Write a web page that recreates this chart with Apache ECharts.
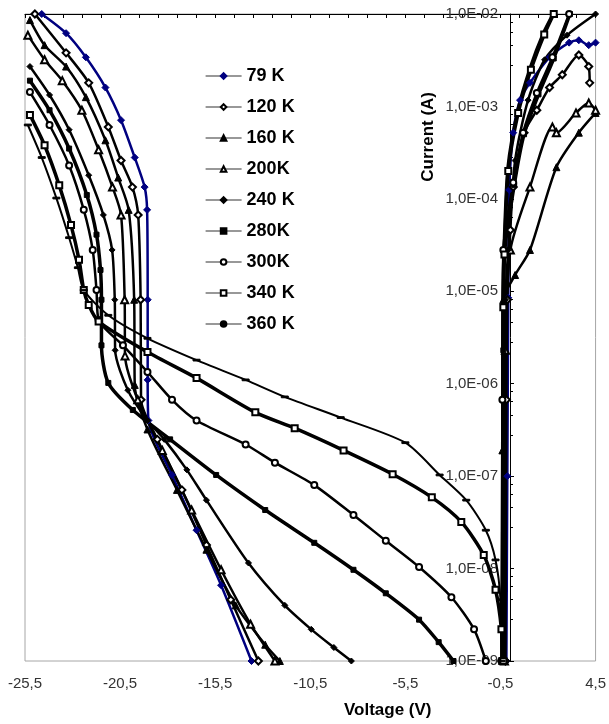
<!DOCTYPE html>
<html><head><meta charset="utf-8">
<script src="https://cdn.jsdelivr.net/npm/echarts@6/dist/echarts.min.js"></script>
<style>html,body{margin:0;padding:0;background:#fff}#c{width:609px;height:724px}</style>
</head><body><div id="c"></div>
<script>
// ---- data (Voltage V, Current A) ----
const xTickValues = [-25.5,-20.5,-15.5,-10.5,-5.5,-0.5,4.5];
const seriesNames = ['79 K','120 K','160 K','200K','240 K','280K','300K','340 K','360 K'];

const k79Rev = [[-24.62,1.0e-2],[-23.34,6.2e-3],[-22.30,3.4e-3],[-21.27,1.6e-3],[-20.45,7.1e-4],[-19.73,2.8e-4],[-19.21,1.34e-4],[-19.08,7.6e-5],[-19.05,8.1e-6],[-19.05,1.1e-6],[-19.01,4.0e-7],[-17.77,1.03e-7],[-16.48,2.6e-8],[-15.19,6.6e-9],[-13.59,1.0e-9]];
const k79Fwd = [[-0.19,1.0e-9],[-0.14,1.0e-7],[-0.09,8.5e-6],[-0.04,1.25e-4],[0.17,5.2e-4],[0.53,1.17e-3],[1.05,1.8e-3],[2.08,3.4e-3],[3.11,4.9e-3],[3.62,5.2e-3],[4.14,4.6e-3],[4.50,4.9e-3]];

const k120Rev = [[-24.98,1.0e-2],[-23.34,3.8e-3],[-22.15,1.8e-3],[-21.12,6.0e-4],[-20.45,2.6e-4],[-19.85,1.34e-4],[-19.55,6.7e-5],[-19.42,8.1e-6],[-19.40,6.7e-7],[-18.54,2.5e-7],[-17.25,7.1e-8],[-15.96,1.8e-8],[-14.68,4.6e-9],[-13.23,1.0e-9]];
const k120Fwd = [[-0.24,1.0e-9],[-0.19,6.7e-7],[-0.14,8.1e-6],[0.02,4.6e-5],[0.17,1.34e-4],[0.74,5.2e-4],[1.41,9.1e-4],[2.08,1.6e-3],[2.75,2.2e-3],[3.62,3.6e-3],[4.14,2.7e-3],[4.19,1.8e-3]];

const k160Rev = [[-25.24,8.6e-3],[-24.47,4.6e-3],[-23.34,2.7e-3],[-22.30,1.26e-3],[-21.27,4.3e-4],[-20.60,1.7e-4],[-20.05,7.6e-5],[-19.76,8.1e-6],[-19.73,9.7e-7],[-19.06,3.2e-7],[-17.51,7.1e-8],[-15.96,1.6e-8],[-14.42,4.0e-9],[-12.87,1.5e-9],[-12.10,1.0e-9]];
const k160Fwd = [[-0.40,1.0e-9],[-0.40,1.9e-7],[-0.35,8.1e-6],[0.27,1.5e-5],[1.05,2.8e-5],[2.44,2.2e-4],[3.62,5.2e-4],[4.50,8.5e-4]];

const k200Rev = [[-25.35,5.9e-3],[-24.47,3.2e-3],[-23.54,1.9e-3],[-22.51,9.1e-4],[-21.63,3.4e-4],[-20.90,1.34e-4],[-20.45,6.7e-5],[-20.26,8.1e-6],[-20.24,2.0e-6],[-19.57,6.7e-7],[-18.28,1.9e-7],[-16.74,4.3e-8],[-15.19,9.7e-9],[-13.64,2.5e-9],[-12.36,1.0e-9]];
const k200Fwd = [[-0.29,1.0e-9],[-0.24,2.3e-6],[0.02,2.8e-5],[1.05,1.34e-4],[2.23,6.0e-4],[2.44,5.2e-4],[3.47,8.5e-4],[4.14,1.09e-3],[4.50,9.1e-4]];

const k240Rev = [[-25.24,2.7e-3],[-24.21,1.33e-3],[-23.18,5.6e-4],[-22.15,1.8e-4],[-21.38,6.7e-5],[-20.92,2.8e-5],[-20.78,8.1e-6],[-20.76,2.3e-6],[-20.09,8.5e-7],[-19.06,4.0e-7],[-18.18,2.5e-7],[-16.99,1.17e-7],[-15.96,5.5e-8],[-13.75,1.15e-8],[-11.84,4.0e-9],[-10.45,2.2e-9],[-9.26,1.4e-9],[-8.34,1.0e-9]];
const k240Fwd = [[-0.29,1.0e-9],[-0.24,8.1e-6],[-0.09,2.8e-5],[0.27,2.6e-4],[0.95,1.17e-3],[1.82,3.2e-3],[3.00,5.9e-3],[4.50,1.0e-2]];

const k280Rev = [[-25.24,1.9e-3],[-24.21,9.1e-4],[-23.18,3.5e-4],[-22.25,1.1e-4],[-21.74,4.1e-5],[-21.53,1.7e-5],[-21.48,8.1e-6],[-21.48,2.6e-6],[-21.12,1.02e-6],[-19.83,5.2e-7],[-17.87,2.5e-7],[-15.45,1.03e-7],[-12.87,4.3e-8],[-10.29,1.9e-8],[-8.23,9.7e-9],[-6.53,5.4e-9],[-4.78,2.8e-9],[-3.75,1.6e-9],[-2.97,1.0e-9]];
const k280Fwd = [[-0.40,1.0e-9],[-0.35,2.3e-6],[-0.29,2.5e-5],[0.22,1.4e-4],[0.74,5.0e-4],[1.50,1.35e-3],[2.30,3.3e-3],[3.15,1.0e-2]];

const k300Rev = [[-25.24,1.43e-3],[-24.21,6.3e-4],[-23.18,2.3e-4],[-22.41,7.6e-5],[-21.94,2.8e-5],[-21.74,1.03e-5],[-21.63,4.9e-6],[-20.35,2.6e-6],[-19.06,1.34e-6],[-17.77,6.7e-7],[-16.48,4.0e-7],[-13.90,2.2e-7],[-12.36,1.4e-7],[-10.29,8.0e-8],[-8.23,3.8e-8],[-6.53,2.0e-8],[-4.78,1.04e-8],[-3.08,4.9e-9],[-1.89,2.2e-9],[-1.27,1.0e-9]];
const k300Fwd = [[-0.45,1.0e-9],[-0.40,6.7e-7],[-0.35,2.8e-5],[0.17,1.5e-4],[0.69,5.2e-4],[1.41,1.4e-3],[2.23,3.4e-3],[3.11,1.0e-2]];

const k340Rev = [[-25.24,8.1e-4],[-24.47,3.8e-4],[-23.70,1.4e-4],[-23.08,5.2e-5],[-22.66,2.2e-5],[-22.41,1.03e-5],[-22.15,7.1e-6],[-21.63,4.7e-6],[-19.06,2.2e-6],[-16.48,1.15e-6],[-13.39,4.9e-7],[-11.32,3.3e-7],[-8.75,1.9e-7],[-6.17,1.05e-7],[-4.11,5.9e-8],[-2.56,3.2e-8],[-1.38,1.4e-8],[-0.76,5.9e-9],[-0.45,2.2e-9],[-0.40,1.0e-9]];
const k340Fwd = [[-0.35,1.0e-9],[-0.35,6.7e-6],[-0.29,2.5e-5],[-0.09,2.0e-4],[0.43,8.5e-4],[1.10,2.5e-3],[1.80,6.0e-3],[2.30,1.0e-2]];

const k360Rev = [[-25.35,6.3e-4],[-24.62,2.8e-4],[-23.85,1.02e-4],[-23.18,3.8e-5],[-22.72,1.8e-5],[-22.41,1.03e-5],[-21.12,5.5e-6],[-19.06,3.1e-6],[-16.48,1.8e-6],[-13.90,1.1e-6],[-11.84,7.2e-7],[-8.90,4.3e-7],[-5.50,2.3e-7],[-3.70,1.03e-7],[-2.30,5.5e-8],[-1.27,2.6e-8],[-0.76,1.24e-8],[-0.50,4.6e-9],[-0.45,1.0e-9]];
const k360Fwd = [[-0.40,1.0e-9],[-0.40,8.1e-6],[-0.35,2.8e-5],[-0.14,2.2e-4],[0.38,9.1e-4],[1.05,2.7e-3],[1.72,6.2e-3],[2.23,1.0e-2]];

const reverseData = [k79Rev,k120Rev,k160Rev,k200Rev,k240Rev,k280Rev,k300Rev,k340Rev,k360Rev];
const forwardData = [k79Fwd,k120Fwd,k160Fwd,k200Fwd,k240Fwd,k280Fwd,k300Fwd,k340Fwd,k360Fwd];

// ---- styles ----
const FONT = '"Liberation Sans", Arial, sans-serif';
const DASH = 'path://M0,0 L12,0 L12,3 L0,3 Z';
const styles = [
  {symbol:'diamond', color:'#000080', size:7, width:2.5, keep:false},
  {symbol:'emptyDiamond', color:'#000', size:7, width:2.5, keep:false},
  {symbol:'triangle', color:'#000', size:7, width:2.5, keep:false},
  {symbol:'emptyTriangle', color:'#000', size:7, width:2.5, keep:false},
  {symbol:'diamond', color:'#000', size:6, width:2.5, keep:false},
  {symbol:'rect', color:'#000', size:5, width:3.5, keep:false},
  {symbol:'emptyCircle', color:'#000', size:6, width:2.5, keep:false},
  {symbol:'emptyRect', color:'#000', size:6, width:3.5, keep:false},
  {symbol:DASH, color:'#000', size:7, width:2, keep:true, legendNone:true}
];

const chart = echarts.init(document.getElementById('c'), null, {renderer:'canvas'});
const W = chart.getWidth();
const gridLeft = 25, gridRight = 2, gridTop = 14, gridBottom = 63;
const plotW = W - gridLeft - gridRight;
const xMin = -25.5, xMax = 4.5, yAxisCross = -0.5;
const yOffset = -((yAxisCross - xMin) / (xMax - xMin)) * plotW;

const series = [];
seriesNames.forEach((name, i) => {
  const s = styles[i];
  // for the dash-marker series the (marker-less) forward branch comes first so the legend shows a plain line
  const parts = s.legendNone
    ? [{d: forwardData[i], sym: 'none'}, {d: reverseData[i], sym: s.symbol}]
    : [{d: reverseData[i], sym: s.symbol}, {d: forwardData[i], sym: s.symbol}];
  parts.forEach(p => {
    series.push({
      name: name, type: 'line', data: p.d, xAxisIndex: 0,
      symbol: p.sym, symbolSize: s.size, symbolKeepAspect: s.keep, showSymbol: p.sym !== 'none',
      smooth: 0.25,
      lineStyle: {color: s.color, width: s.width},
      itemStyle: {color: s.color, borderColor: s.color, borderWidth: 1},
      emphasis: {disabled: true}, animation: false, clip: true, z: 2
    });
  });
});

const fmtE = v => {
  const e = Math.round(Math.log10(v));
  return '1,0E' + (e < 0 ? '-' : '+') + String(Math.abs(e)).padStart(2, '0');
};

chart.setOption({
  backgroundColor: '#fff',
  animation: false,
  grid: {left: gridLeft, right: gridRight, top: gridTop, bottom: gridBottom, show: true, borderColor: '#a6a6a6', borderWidth: 1},
  legend: {
    data: seriesNames,
    orient: 'vertical', left: 200, top: 61,
    itemWidth: 36, itemHeight: 7, itemGap: 11,
    textStyle: {fontFamily: FONT, fontWeight: 'bold', fontSize: 18, color: '#000', lineHeight: 20},
    lineStyle: {width: 1.2, color: '#333'},
    selectedMode: false
  },
  xAxis: [
    {type: 'value', min: xMin, max: xMax, interval: 5, position: 'bottom',
     axisLine: {show: false}, axisTick: {show: false}, splitLine: {show: false},
     axisLabel: {fontFamily: FONT, fontSize: 15, color: '#333', margin: 15,
                 formatter: v => String(v).replace('.', ',')}},
    {type: 'value', min: xMin, max: xMax, interval: 1, position: 'top',
     axisLine: {show: true, lineStyle: {color: '#000', width: 1}},
     axisTick: {show: true, inside: true, length: 4, lineStyle: {color: '#000'}},
     axisLabel: {show: false}, splitLine: {show: false}}
  ],
  yAxis: {
    type: 'log', logBase: 10, min: 1e-9, max: 1e-2, position: 'left', offset: yOffset,
    axisLine: {show: true, lineStyle: {color: '#000', width: 1}},
    axisTick: {show: true, inside: true, length: 4, lineStyle: {color: '#000'}},
    minorTick: {show: true, splitNumber: 5, length: 3, lineStyle: {color: '#000'}},
    splitLine: {show: false},
    axisLabel: {fontFamily: FONT, fontSize: 15, color: '#333', margin: 12, formatter: fmtE}
  },
  graphic: [
    {type: 'text', left: 420, top: 92, rotation: Math.PI / 2,
     style: {text: 'Current (A)', fontFamily: FONT, fontWeight: 'bold', fontSize: 17, fill: '#000'}},
    {type: 'text', left: 344, top: 702,
     style: {text: 'Voltage (V)', fontFamily: FONT, fontWeight: 'bold', fontSize: 17, fill: '#000'}}
  ],
  series: series
});
</script></body></html>
